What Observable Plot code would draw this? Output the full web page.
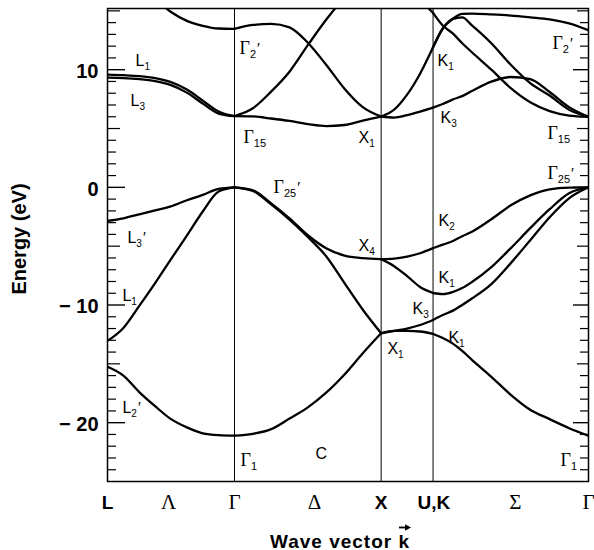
<!DOCTYPE html>
<html><head><meta charset="utf-8">
<script src="https://cdn.jsdelivr.net/npm/d3@7"></script>
<script src="https://cdn.jsdelivr.net/npm/@observablehq/plot@0.6"></script>
<style>
html,body{margin:0;padding:0;background:#fff;}
#chart svg{display:block;overflow:visible;}
</style>
</head><body><div id="chart"></div>
<script>
// ---- High-symmetry points (k in units of 2π/a) ----
const symK = [0, 0.866, 1.866, 2.220, 3.280];          // L, Γ, X, U/K, Γ
const axisLabel  = ["L", "Λ", "Γ", "Δ", "X", "U,K", "Σ", "Γ"];
const axisLabelK = [0, 0.416, 0.866, 1.411, 1.866, 2.225, 2.782, 3.280];
const axisSerif  = [false, true, true, true, false, false, true, true];

// ---- Energy tick values (eV) ----
const yTickLabels = [-20, -10, 0, 10];
const yMajorTicks = [-20, -10, 0, 10];
const yMidTicks   = [-15, -5, 5, 15];
const yMinorTicks = [-24,-23,-22,-21,-19,-18,-17,-16,-14,-13,-12,-11,-9,-8,-7,-6,-4,-3,-2,-1,1,2,3,4,6,7,8,9,11,12,13,14];

// ---- Sample fractions along each segment ----
const tLam = [0, .125, .25, .375, .5, .625, .75, .875, 1];
const tDel = [0, .125, .25, .375, .5, .625, .75, .875, 1];
const tXK  = [0, .25, .5, .75, 1];
const tSig = [0, .0625, .125, .1875, .25, .375, .5, .625, .75, .875, 1];

// ---- Λ : L → Γ (eV) ----
const lamC_L1  = [9.58, 9.53, 9.45, 9.28, 8.94, 8.31, 7.37, 6.44, 6.05];
const lamC_L3  = [9.32, 9.28, 9.19, 9.02, 8.69, 8.05, 7.12, 6.27, 6.05];
const lamC_L2p = [18.0, 17.4, 16.8, 16.0, 14.9, 14.15, 13.73, 13.5, 13.47];
const lamV_L3p = [-2.85, -2.63, -2.29, -1.95, -1.61, -1.1, -0.64, -0.13, 0];
const lamV_L1  = [-13.05, -11.95, -10.08, -8.14, -6.1, -4.1, -2.05, -0.35, 0];
const lamV_L2p = [-15.25, -16.0, -17.4, -18.6, -19.7, -20.4, -20.9, -21.06, -21.1];

// ---- Δ : Γ → X (eV) ----
const delC_G15a = [6.05, 6.03, 5.85, 5.64, 5.38, 5.21, 5.3, 5.68, 6.02];
const delC_G15b = [6.05, 6.72, 8.14, 9.83, 12.08, 14.24, 16.1, 17.2, 17.6];
const delC_G2p  = [13.47, 13.8, 13.9, 13.6, 12.29, 10.42, 8.39, 6.82, 6.02];
const delV_X4   = [0, -0.25, -1.36, -2.63, -4.07, -5.17, -5.8, -6.02, -6.1];
const delV_X1   = [0, -0.3, -1.45, -2.75, -4.22, -5.85, -8.14, -10.4, -12.4];
const delV_G1   = [-21.1, -20.95, -20.55, -19.65, -18.7, -17.45, -15.9, -14.1, -12.4];

// ---- X → U,K (eV) ----
const xkC_K1  = [6.02, 6.6, 7.88, 9.66, 11.9];
const xkC_K3  = [6.02, 5.93, 6.14, 6.44, 6.78];
const xkC_top = [17.6, 17.4, 16.8, 15.9, 14.83];
const xkV_K2  = [-6.1, -6.06, -5.89, -5.6, -5.17];
const xkV_K1  = [-6.1, -6.7, -7.54, -8.47, -8.98];
const xkV_K3  = [-12.4, -12.2, -12.0, -11.7, -11.27];
const xkV_K1b = [-12.4, -12.2, -12.2, -12.25, -12.46];

// ---- Σ : K → Γ (eV) ----
const sigC_top = [11.9, 13.5, 14.3, 14.75, 14.77, 14.7, 14.6, 14.45, 14.28, 13.94, 13.35];
const sigC_mid = [11.9, 13.5, 14.3, 14.45, 13.77, 12.25, 10.42, 8.86, 7.8, 6.6, 6.0];
const sigC_K3  = [6.78, 7.08, 7.46, 7.75, 8.18, 8.98, 9.38, 9.2, 8.1, 6.82, 6.0];
const sigC_A   = [14.83, 13.75, 13.1, 12.25, 11.48, 10.0, 8.43, 7.23, 6.48, 6.1, 6.0];
const sigV_K2  = [-5.17, -4.87, -4.58, -4.15, -3.77, -2.71, -1.53, -0.68, -0.17, -0.02, 0];
const sigV_K1  = [-8.98, -9.07, -8.9, -8.56, -8.05, -6.78, -5.17, -3.47, -1.86, -0.51, 0];
const sigV_K3  = [-11.27, -10.85, -10.5, -10.0, -9.45, -8.22, -6.44, -4.5, -2.54, -0.93, 0];
const sigV_K1b = [-12.46, -12.8, -13.26, -13.9, -14.66, -16.1, -17.63, -18.9, -19.7, -20.47, -21.1];

// ---- Band labels (symbol, subscript, prime, k, E of baseline) ----
const bandLabels = [
  {base:"Γ", sub:"2",  prime:true,  k:0.900, E:11.37},
  {base:"L", sub:"1",  prime:false, k:0.191, E:10.35},
  {base:"L", sub:"3",  prime:false, k:0.157, E:6.95},
  {base:"Γ", sub:"15", prime:false, k:0.927, E:3.81},
  {base:"Γ", sub:"25", prime:true,  k:1.132, E:-0.44},
  {base:"L", sub:"3",  prime:true,  k:0.136, E:-4.69},
  {base:"L", sub:"1",  prime:false, k:0.102, E:-9.62},
  {base:"L", sub:"2",  prime:true,  k:0.102, E:-19.22},
  {base:"Γ", sub:"1",  prime:false, k:0.907, E:-23.65},
  {base:"C", sub:"",   prime:false, k:1.418, E:-23.05},
  {base:"X", sub:"1",  prime:false, k:1.712, E:3.73},
  {base:"K", sub:"1",  prime:false, k:2.250, E:10.35},
  {base:"K", sub:"3",  prime:false, k:2.271, E:5.43},
  {base:"Γ", sub:"2",  prime:true,  k:3.034, E:11.8},
  {base:"Γ", sub:"15", prime:false, k:3.000, E:4.15},
  {base:"Γ", sub:"25", prime:true,  k:3.000, E:0.7},
  {base:"K", sub:"2",  prime:false, k:2.257, E:-3.25},
  {base:"X", sub:"4",  prime:false, k:1.712, E:-5.37},
  {base:"K", sub:"1",  prime:false, k:2.257, E:-8.09},
  {base:"K", sub:"3",  prime:false, k:2.080, E:-10.73},
  {base:"X", sub:"1",  prime:false, k:1.909, E:-14.13},
  {base:"K", sub:"1",  prime:false, k:2.325, E:-13.19},
  {base:"Γ", sub:"1",  prime:false, k:3.089, E:-23.65}
];

// ---- Build line table ----
const rows = [];
function addSeg(k0, k1, t, bands, prefix) {
  for (const [name, vals] of Object.entries(bands)) {
    vals.forEach((E, i) => rows.push({id: prefix + name, k: k0 + (k1 - k0) * t[i], E}));
  }
}
addSeg(symK[0], symK[1], tLam, {lamC_L1, lamC_L3, lamC_L2p, lamV_L3p, lamV_L1, lamV_L2p}, "lam");
addSeg(symK[1], symK[2], tDel, {delC_G15a, delC_G15b, delC_G2p, delV_X4, delV_X1, delV_G1}, "del");
addSeg(symK[2], symK[3], tXK,  {xkC_K1, xkC_K3, xkC_top, xkV_K2, xkV_K1, xkV_K3, xkV_K1b}, "xk");
addSeg(symK[3], symK[4], tSig, {sigC_top, sigC_mid, sigC_K3, sigC_A, sigV_K2, sigV_K1, sigV_K3, sigV_K1b}, "sig");

const W = 594, H = 550, mL = 107, mR = 6, mT = 8, mB = 69;
const FW = W - mL - mR;
const serifFont = "'Liberation Serif', 'DejaVu Serif', serif";
const sansFont = "'Liberation Sans', Arial, Helvetica, sans-serif";

const axisRows = axisLabel.map((t, i) => ({t, k: axisLabelK[i], serif: axisSerif[i]}));
const serifLabels = bandLabels.filter(d => d.base === "Γ");
const sansLabels = bandLabels.filter(d => d.base !== "Γ");
const fmtE = d => d < 0 ? "\u2212 " + (-d) : String(d);

const chart = Plot.plot({
  width: W, height: H,
  marginLeft: mL, marginRight: mR, marginTop: mT, marginBottom: mB,
  style: {fontFamily: sansFont, background: "#fff", color: "#000"},
  x: {domain: [symK[0], symK[4]], axis: null},
  y: {domain: [-25, 15.2], axis: null},
  marks: [
    Plot.ruleX(symK.slice(1, 4), {stroke: "#000", strokeWidth: 1}),
    // inward ticks, left and right
    Plot.tickY(yMinorTicks, {y: d => d, insetRight: FW - 9, stroke: "#000", strokeWidth: 1.2}),
    Plot.tickY(yMidTicks,   {y: d => d, insetRight: FW - 13, stroke: "#000", strokeWidth: 1.2}),
    Plot.tickY(yMajorTicks, {y: d => d, insetRight: FW - 18, stroke: "#000", strokeWidth: 1.4}),
    Plot.tickY(yMinorTicks, {y: d => d, insetLeft: FW - 8, stroke: "#000", strokeWidth: 1.2}),
    Plot.tickY(yMidTicks,   {y: d => d, insetLeft: FW - 11, stroke: "#000", strokeWidth: 1.2}),
    Plot.tickY(yMajorTicks, {y: d => d, insetLeft: FW - 15, stroke: "#000", strokeWidth: 1.4}),
    Plot.line(rows, {x: "k", y: "E", z: "id", curve: "monotone-x", stroke: "#000",
      strokeWidth: 2.3, strokeLinejoin: "round", strokeLinecap: "round", clip: true}),
    Plot.frame({stroke: "#000", strokeWidth: 1.5}),
    // text marks (order matters for post-processing)
    Plot.text(yTickLabels, {y: d => d, text: fmtE, frameAnchor: "left", textAnchor: "end",
      lineAnchor: "middle", dx: -9, dy: 2, fontSize: 20, fontWeight: "bold", fill: "#000"}),
    Plot.text(axisRows.filter(d => !d.serif), {x: "k", text: "t", frameAnchor: "bottom",
      lineAnchor: "bottom", dy: 27, fontSize: 19, fontWeight: "bold", fill: "#000"}),
    Plot.text(axisRows.filter(d => d.serif), {x: "k", text: "t", frameAnchor: "bottom",
      lineAnchor: "bottom", dy: 27, fontSize: 21, fontFamily: serifFont, fill: "#000"}),
    Plot.text(["Energy (eV)"], {text: d => d, frameAnchor: "left", textAnchor: "middle",
      lineAnchor: "middle", rotate: -90, dx: -88, dy: -6, fontSize: 20, fontWeight: "bold", fill: "#000"}),
    Plot.text(["Wave vector k"], {text: d => d, frameAnchor: "bottom", textAnchor: "middle",
      lineAnchor: "bottom", dx: -8, dy: 66, fontSize: 19, fontWeight: "bold", fill: "#000"}),
    Plot.text(serifLabels, {x: "k", y: "E", text: "base", textAnchor: "start", lineAnchor: "bottom",
      fontSize: 18, fontFamily: serifFont, fill: "#000"}),
    Plot.text(sansLabels, {x: "k", y: "E", text: "base", textAnchor: "start", lineAnchor: "bottom",
      fontSize: 16, fill: "#000"})
  ]
});

document.getElementById("chart").appendChild(chart);

const NS = "http://www.w3.org/2000/svg";
const textGroups = Array.from(chart.querySelectorAll('g[aria-label="text"]'));

function decorate(group, data, subSize, subDy) {
  if (!group) return;
  const els = group.querySelectorAll("text");
  els.forEach((el, i) => {
    const d = data[i];
    if (!d) return;
    el.textContent = d.base;
    if (d.sub) {
      const ts = document.createElementNS(NS, "tspan");
      ts.setAttribute("dy", subDy);
      ts.setAttribute("font-size", subSize);
      ts.setAttribute("font-family", sansFont);
      ts.textContent = d.sub;
      el.appendChild(ts);
    }
    if (d.prime) {
      const tp = document.createElementNS(NS, "tspan");
      tp.setAttribute("dy", -subDy - 1);
      tp.setAttribute("dx", 1);
      tp.setAttribute("font-size", 15);
      tp.setAttribute("font-family", sansFont);
      tp.textContent = "\u2032";
      el.appendChild(tp);
    }
  });
}
decorate(textGroups[5], serifLabels, 11, 4);
decorate(textGroups[6], sansLabels, 10, 4);

// letter spacing for x title and arrow above k
const xtg = textGroups[4];
const xt = xtg ? xtg.querySelector("text") : null;
if (xt) {
  xt.setAttribute("letter-spacing", "1");
  try {
    const n = xt.getNumberOfChars();
    const r = xt.getExtentOfChar(n - 1);
    const y = r.y - 3, x0 = r.x + 0.5, x1 = r.x + r.width + 1;
    const g = document.createElementNS(NS, "g");
    const tr = (xtg.getAttribute("transform") || "") + " " + (xt.getAttribute("transform") || "");
    g.setAttribute("transform", tr);
    const p = document.createElementNS(NS, "path");
    p.setAttribute("d", `M${x0},${y}L${x1 - 4},${y}`);
    p.setAttribute("stroke", "#000"); p.setAttribute("stroke-width", 1.8);
    const h = document.createElementNS(NS, "path");
    h.setAttribute("d", `M${x1},${y}L${x1 - 6},${y - 3.2}L${x1 - 6},${y + 3.2}Z`);
    h.setAttribute("fill", "#000");
    g.appendChild(p); g.appendChild(h);
    xtg.parentNode.appendChild(g);
  } catch (e) {}
}
</script>
</body></html>
